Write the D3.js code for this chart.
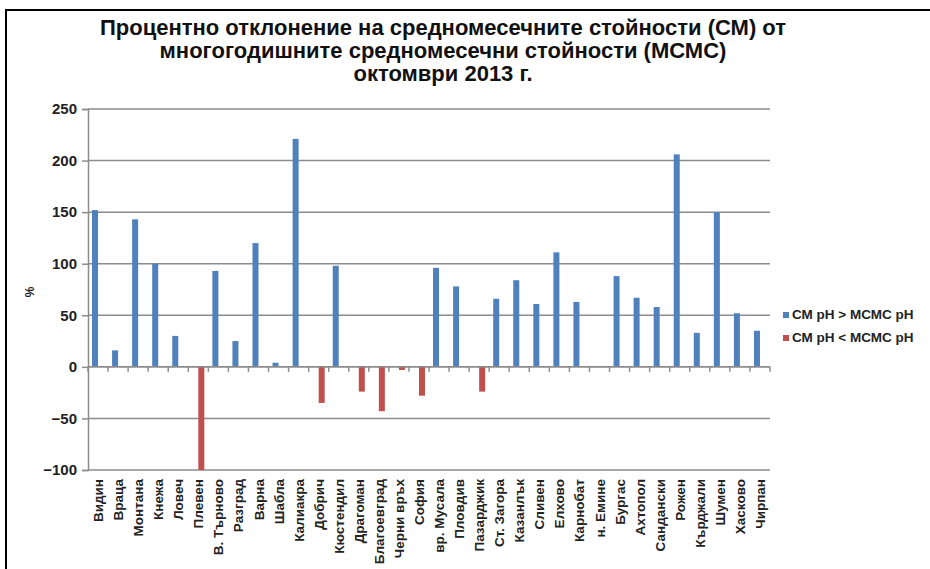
<!DOCTYPE html>
<html>
<head>
<meta charset="utf-8">
<script src="https://cdn.jsdelivr.net/npm/d3@7"></script>
<style>
  body { margin: 0; background: #fff; }
  text { font-family: "Liberation Sans", Arial, sans-serif; }
</style>
</head>
<body>
<script>
// station names (x categories)
var stations = ["Видин", "Враца", "Монтана", "Кнежа", "Ловеч", "Плевен", "В. Търново", "Разград",
    "Варна", "Шабла", "Калиакра", "Добрич", "Кюстендил", "Драгоман", "Благоевград", "Черни връх",
    "София", "вр. Мусала", "Пловдив", "Пазарджик", "Ст. Загора", "Казанлък", "Сливен", "Елхово",
    "Карнобат", "н. Емине", "Бургас", "Ахтопол", "Сандански", "Рожен", "Кърджали", "Шумен",
    "Хасково", "Чирпан"];

// CM pH > MCMC pH
var above = [152, 16, 143, 100, 30, null, 93, 25,
    120, 4, 221, null, 98, null, null, null,
    null, 96, 78, null, 66, 84, 61, 111,
    63, null, 88, 67, 58, 206, 33, 150,
    52, 35];

// CM pH < MCMC pH
var below = [null, null, null, null, null, -100, null, null,
    null, null, null, -35, null, -24, -43, -3,
    -28, null, null, -24, null, null, null, null,
    null, null, null, null, null, null, null, null,
    null, null];

var titleLines = ["Процентно отклонение на средномесечните стойности (СМ) от",
    "многогодишните средномесечни стойности (МСМС)",
    "октомври 2013 г."];
var seriesNames = ["СМ pH > МСМС pH", "СМ pH < МСМС pH"];
var yTicks = [-100, -50, 0, 50, 100, 150, 200, 250];

var w = 930, h = 569;
var plotL = 88, plotR = 770, plotT = 109, plotB = 470;
var colors = ["#4f81bd", "#c0504d"];
var gridColor = "#8c8c8c";

var svg = d3.select("body").append("svg")
    .attr("width", w)
    .attr("height", h);

// frame lines (top and left only)
svg.append("rect").attr("x", 5).attr("y", 9).attr("width", w - 5).attr("height", 2).attr("fill", "#000");
svg.append("rect").attr("x", 5).attr("y", 9).attr("width", 2).attr("height", h - 9).attr("fill", "#000");

var x0 = d3.scaleBand().domain(stations).range([plotL, plotR]).padding(0);
var x1 = d3.scaleBand().domain([0, 1]).range([0, x0.bandwidth()])
    .paddingInner(0).paddingOuter(0.67);
var y = d3.scaleLinear().domain([-100, 250]).range([plotB, plotT]);

// title
svg.append("g").selectAll("text")
    .data(titleLines)
    .enter()
    .append("text")
    .attr("x", 443)
    .attr("y", function(d, i) { return 35 + i * 23; })
    .attr("text-anchor", "middle")
    .attr("font-size", "22px")
    .attr("font-weight", "bold")
    .attr("fill", "#111")
    .text(function(d) { return d; });

// gridlines
svg.append("g").selectAll("line")
    .data(yTicks)
    .enter()
    .append("line")
    .attr("x1", plotL).attr("x2", plotR)
    .attr("y1", function(d) { return y(d); })
    .attr("y2", function(d) { return y(d); })
    .attr("stroke", gridColor)
    .attr("stroke-width", 1.5);

// y axis
var yAxis = d3.axisLeft(y).tickValues(yTicks).tickSize(6).tickPadding(5);
var gy = svg.append("g")
    .attr("transform", "translate(" + plotL + ",0)")
    .call(yAxis);
gy.select(".domain").attr("stroke", gridColor).attr("stroke-width", 1.5);
gy.selectAll(".tick line").attr("stroke", gridColor).attr("stroke-width", 1.5);
gy.selectAll(".tick text")
    .attr("font-size", "15px")
    .attr("font-weight", "bold")
    .attr("font-family", "Liberation Sans, Arial, sans-serif")
    .attr("fill", "#222");

svg.append("text")
    .attr("transform", "translate(34,292) rotate(-90)")
    .attr("text-anchor", "middle")
    .attr("font-size", "12px")
    .attr("font-weight", "bold")
    .attr("fill", "#222")
    .text("%");

// bars
var series = [above, below];
series.forEach(function(vals, s) {
    svg.append("g").selectAll("rect")
        .data(vals.map(function(v, i) { return {name: stations[i], v: v}; })
            .filter(function(d) { return d.v !== null; }))
        .enter()
        .append("rect")
        .attr("x", function(d) { return x0(d.name) + x1(s); })
        .attr("width", x1.bandwidth())
        .attr("y", function(d) { return y(Math.max(0, d.v)); })
        .attr("height", function(d) { return Math.abs(y(d.v) - y(0)); })
        .attr("fill", colors[s]);
});

// category axis at zero with boundary ticks
svg.append("line")
    .attr("x1", plotL).attr("x2", plotR)
    .attr("y1", y(0)).attr("y2", y(0))
    .attr("stroke", gridColor).attr("stroke-width", 1.5);
svg.append("g").selectAll("line")
    .data(d3.range(stations.length + 1))
    .enter()
    .append("line")
    .attr("x1", function(i) { return plotL + i * x0.step(); })
    .attr("x2", function(i) { return plotL + i * x0.step(); })
    .attr("y1", y(0)).attr("y2", y(0) + 5)
    .attr("stroke", gridColor).attr("stroke-width", 1.5);

// category labels at the bottom
svg.append("g").selectAll("text")
    .data(stations)
    .enter()
    .append("text")
    .attr("transform", function(d) {
        return "translate(" + (x0(d) + x0.bandwidth() / 2 + 5) + "," + (plotB + 9) + ") rotate(-90)";
    })
    .attr("text-anchor", "end")
    .attr("font-size", "13.5px")
    .attr("font-weight", "bold")
    .attr("fill", "#222")
    .text(function(d) { return d; });

// legend
var legend = svg.append("g").selectAll("g")
    .data(seriesNames)
    .enter()
    .append("g")
    .attr("transform", function(d, i) { return "translate(783," + (312 + i * 23) + ")"; });
legend.append("rect")
    .attr("width", 6).attr("height", 6)
    .attr("fill", function(d, i) { return colors[i]; });
legend.append("text")
    .attr("x", 9).attr("y", 7)
    .attr("font-size", "13.5px")
    .attr("font-weight", "bold")
    .attr("fill", "#222")
    .text(function(d) { return d; });
</script>
</body>
</html>
